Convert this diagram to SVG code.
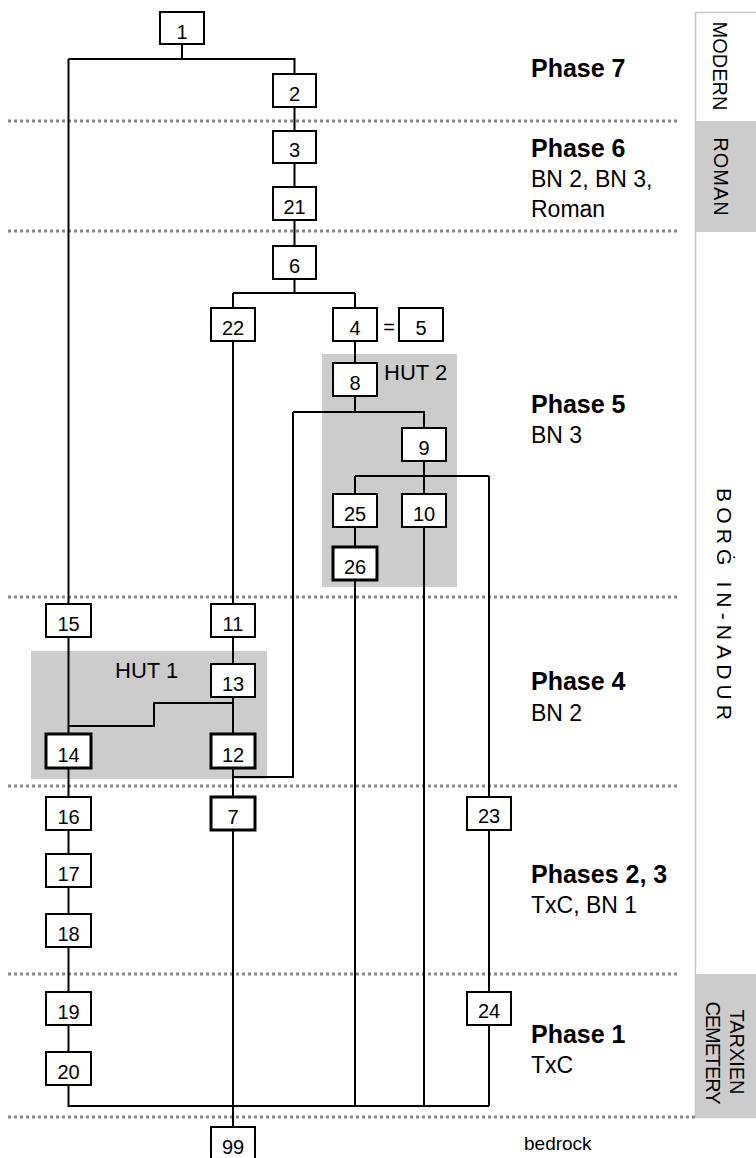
<svg xmlns="http://www.w3.org/2000/svg" width="756" height="1158" viewBox="0 0 756 1158">
<style>
text{font-family:"Liberation Sans",Arial,sans-serif;fill:#000}
.bx rect{fill:#fff;stroke:#000;stroke-width:2}
.bx.thick rect{stroke-width:3}
.bx text{font-size:20px;text-anchor:middle}
.dot{stroke:#888;stroke-width:3;stroke-dasharray:3 3;fill:none}
.hut{fill:#cccccc}
.conn path{fill:none;stroke:#000;stroke-width:2}
.ph{font-size:25px;font-weight:bold}
.sub{font-size:23px}
.vt{text-anchor:middle}
</style>
<rect width="756" height="1158" fill="#fff"/>
<g id="periods">
<rect x="695.5" y="12.5" width="70" height="1105" fill="#fff" stroke="#c8c8c8" stroke-width="1.5"/>
<rect x="696" y="121" width="60" height="111" fill="#cccccc"/>
<rect x="696" y="974" width="60" height="144" fill="#cccccc"/>
<text class="vt" font-size="20" transform="translate(713,66) rotate(90)">MODERN</text>
<text class="vt" font-size="20" letter-spacing="1" transform="translate(714,177) rotate(90)">ROMAN</text>
<text class="vt" font-size="21" textLength="232" lengthAdjust="spacing" transform="translate(717,604) rotate(90)">BORĠ IN-NADUR</text>
<text class="vt" font-size="20" textLength="85" lengthAdjust="spacing" transform="translate(730,1052) rotate(90)">TARXIEN</text>
<text class="vt" font-size="20" textLength="103" lengthAdjust="spacing" transform="translate(706,1053) rotate(90)">CEMETERY</text>
</g>
<g id="dividers">
<line class="dot" x1="8" y1="121" x2="680" y2="121"/>
<line class="dot" x1="8" y1="231" x2="680" y2="231"/>
<line class="dot" x1="8" y1="597" x2="680" y2="597"/>
<line class="dot" x1="8" y1="786" x2="680" y2="786"/>
<line class="dot" x1="8" y1="974" x2="680" y2="974"/>
<line class="dot" x1="8" y1="1117" x2="695" y2="1117"/>
</g>
<g id="hut2"><rect class="hut" x="322" y="354" width="135" height="233"/><text x="384" y="380" font-size="22">HUT 2</text></g>
<g id="hut1"><rect class="hut" x="31" y="651" width="236" height="128"/><text x="115" y="678" font-size="22">HUT 1</text></g>
<g id="phases">
<text class="ph" x="531" y="77">Phase 7</text>
<text class="ph" x="531" y="157">Phase 6</text>
<text class="sub" x="531" y="187">BN 2, BN 3,</text>
<text class="sub" x="531" y="217">Roman</text>
<text class="ph" x="531" y="413">Phase 5</text>
<text class="sub" x="531" y="443">BN 3</text>
<text class="ph" x="531" y="690">Phase 4</text>
<text class="sub" x="531" y="721">BN 2</text>
<text class="ph" x="531" y="883">Phases 2, 3</text>
<text class="sub" x="531" y="913">TxC, BN 1</text>
<text class="ph" x="531" y="1043">Phase 1</text>
<text class="sub" x="531" y="1073">TxC</text>
<text x="524" y="1150" font-size="19">bedrock</text>
</g>
<g class="conn" id="connectors">
<path d="M182 44V59M68.5 59H294.5V74M68.5 59V604"/>
<path d="M294.5 107V131M294.5 163V187M294.5 220V246M294.5 279V293M233 293H355M233 293V308M355 293V308"/>
<path d="M233 341V604M355 341V363M355 396V412M293 412H424V428M293 412V777H233"/>
<path d="M424 461V476M355 476H489M355 476V494M424 476V494M489 476V797"/>
<path d="M355 527V547M355 580V1106M424 527V1106M489 830V992M489 1025V1106"/>
<path d="M68.5 637V734M233 637V664M233 697V734M233 703H154V726H68.5"/>
<path d="M68.5 768V797M68.5 830V854M68.5 887V914M68.5 947V992M68.5 1025V1052M68.5 1085V1106H489"/>
<path d="M233 768V797M233 830V1127"/>
</g>
<g id="n1" class="bx"><rect x="160" y="12" width="44" height="32"/><text x="182" y="39">1</text></g>
<g id="n2" class="bx"><rect x="273" y="74" width="43" height="33"/><text x="294.5" y="101">2</text></g>
<g id="n3" class="bx"><rect x="273" y="131" width="43" height="32"/><text x="294.5" y="157">3</text></g>
<g id="n21" class="bx"><rect x="273" y="187" width="43" height="33"/><text x="294.5" y="214">21</text></g>
<g id="n6" class="bx"><rect x="273" y="246" width="43" height="33"/><text x="294.5" y="273">6</text></g>
<g id="n22" class="bx"><rect x="211" y="308" width="44" height="33"/><text x="233" y="335">22</text></g>
<g id="n4" class="bx"><rect x="333" y="308" width="44" height="33"/><text x="355" y="335">4</text></g>
<text x="389" y="334" font-size="20" text-anchor="middle">=</text>
<g id="n5" class="bx"><rect x="399" y="308" width="44" height="33"/><text x="421" y="335">5</text></g>
<g id="n8" class="bx"><rect x="333" y="363" width="44" height="33"/><text x="355" y="390">8</text></g>
<g id="n9" class="bx"><rect x="402" y="428" width="44" height="33"/><text x="424" y="455">9</text></g>
<g id="n25" class="bx"><rect x="333" y="494" width="44" height="33"/><text x="355" y="521">25</text></g>
<g id="n10" class="bx"><rect x="402" y="494" width="44" height="33"/><text x="424" y="521">10</text></g>
<g id="n26" class="bx thick"><rect x="333" y="547" width="44" height="33"/><text x="355" y="574">26</text></g>
<g id="n15" class="bx"><rect x="46" y="604" width="45" height="33"/><text x="68.5" y="631">15</text></g>
<g id="n11" class="bx"><rect x="211" y="604" width="44" height="33"/><text x="233" y="631">11</text></g>
<g id="n13" class="bx"><rect x="211" y="664" width="44" height="33"/><text x="233" y="691">13</text></g>
<g id="n14" class="bx thick"><rect x="46" y="734" width="45" height="34"/><text x="68.5" y="762">14</text></g>
<g id="n12" class="bx thick"><rect x="211" y="734" width="44" height="34"/><text x="233" y="762">12</text></g>
<g id="n16" class="bx"><rect x="46" y="797" width="45" height="33"/><text x="68.5" y="824">16</text></g>
<g id="n7" class="bx thick"><rect x="211" y="797" width="44" height="33"/><text x="233" y="824">7</text></g>
<g id="n23" class="bx"><rect x="467" y="797" width="44" height="33"/><text x="489" y="823" font-size="18">23</text></g>
<g id="n17" class="bx"><rect x="46" y="854" width="45" height="33"/><text x="68.5" y="881">17</text></g>
<g id="n18" class="bx"><rect x="46" y="914" width="45" height="33"/><text x="68.5" y="941">18</text></g>
<g id="n19" class="bx"><rect x="46" y="992" width="45" height="33"/><text x="68.5" y="1019">19</text></g>
<g id="n24" class="bx"><rect x="467" y="992" width="44" height="33"/><text x="489" y="1018" font-size="18">24</text></g>
<g id="n20" class="bx"><rect x="46" y="1052" width="45" height="33"/><text x="68.5" y="1079">20</text></g>
<g id="n99" class="bx"><rect x="211" y="1127" width="44" height="33"/><text x="233" y="1154">99</text></g>
</svg>
